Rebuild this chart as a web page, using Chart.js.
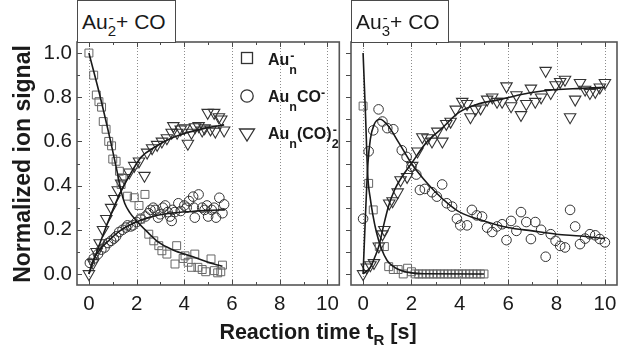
<!DOCTYPE html>
<html><head><meta charset="utf-8">
<script src="https://cdn.jsdelivr.net/npm/chart.js@4.4.1/dist/chart.umd.min.js"></script>
<style>
html,body{margin:0;padding:0;background:#fff;}
#wrap{position:relative;width:639px;height:356px;overflow:hidden;background:#fff;font-family:"Liberation Sans",Arial,Helvetica,sans-serif;color:#1a1a1a;}
canvas{position:absolute;top:0;}
#c1{left:0;}
#c2{left:337px;}
.tbox{position:absolute;top:0;height:43px;box-sizing:border-box;border:1px solid #4a4a4a;background:#fff;}
.tbox .t{position:absolute;left:4px;top:10px;font-size:21px;line-height:1;white-space:nowrap;}
.t .sb{font-size:15px;position:relative;top:7px;}
.t .stk{position:relative;}
.t .stk .sp{font-size:15px;position:absolute;left:1px;top:-0.5px;}
.leg{position:absolute;left:268px;font-size:16px;font-weight:bold;line-height:1;white-space:nowrap;}
.leg .sb{font-size:12.5px;position:relative;top:9px;}
.leg .sp{font-size:12.5px;position:relative;top:-5px;}
.leg .stk{position:relative;}
.leg .stk .sp{position:absolute;left:1px;top:-1px;}
#ytitle{position:absolute;left:-128px;top:152px;width:300px;height:24px;text-align:center;font-size:23px;font-weight:bold;line-height:24px;transform:rotate(-90deg);white-space:nowrap;}
#xtitle{position:absolute;left:168px;top:322px;width:300px;text-align:center;font-size:21.5px;font-weight:bold;line-height:1;white-space:nowrap;}
#xtitle .sb{font-size:15px;position:relative;top:6px;}
</style>
</head>
<body>
<div id="wrap">
  <canvas id="c1" width="347" height="356"></canvas>
  <canvas id="c2" width="302" height="356"></canvas>
  <div class="tbox" style="left:77px;width:99px;"><span class="t">Au<span class="stk"><span class="sb">2</span><span class="sp">-</span></span>+ CO</span></div>
  <div class="tbox" style="left:351px;width:98px;"><span class="t">Au<span class="stk"><span class="sb">3</span><span class="sp">-</span></span>+ CO</span></div>
  <div class="leg" style="top:52px;">Au<span class="stk"><span class="sb">n</span><span class="sp">-</span></span></div>
  <div class="leg" style="top:89px;">Au<span class="sb">n</span>CO<span class="sp">-</span></div>
  <div class="leg" style="top:126px;">Au<span class="sb">n</span>(CO)<span class="stk"><span class="sb">2</span><span class="sp">-</span></span></div>
  <div id="ytitle">Normalized ion signal</div>
  <div id="xtitle">Reaction time t<span class="sb">R</span> [s]</div>
</div>
<script>
// ---------- axis ticks ----------
const xTickValues  = [0,1,2,3,4,5,6,7,8,9,10];
const xLabelValues = [0,2,4,6,8,10];
const xGridValues  = [0,2,4,6,8,10];
const yTickValues  = [0,0.1,0.2,0.3,0.4,0.5,0.6,0.7,0.8,0.9,1.0];
const yLabelValues = [0,0.2,0.4,0.6,0.8,1.0];

// ---------- Au2- + CO (left panel) : [t (s), normalized signal] ----------
const au2Anion = [[0,1.0],[0.2,0.9],[0.31,0.81],[0.42,0.78],[0.53,0.755],[0.6,0.69],[0.72,0.655],[0.83,0.6],[0.95,0.58],
 [1.0,0.52],[1.14,0.51],[1.28,0.465],[1.39,0.435],[1.35,0.405],[1.62,0.352],[1.9,0.345],[2.1,0.31],[2.35,0.36],[2.17,0.248],
 [2.51,0.18],[2.72,0.15],[2.93,0.128],[3.06,0.105],[3.27,0.09],[3.61,0.045],[3.68,0.128],[3.95,0.07],[4.03,0.082],[4.16,0.053],
 [4.3,0.03],[4.44,0.09],[4.57,0.03],[4.75,0.02],[4.9,0.01],[5.12,0.068],[5.26,0.015],[5.4,0.005],[5.53,0.01],[5.6,0.04]];
const au2CO = [[0.04,0.05],[0.2,0.07],[0.38,0.09],[0.52,0.11],[0.66,0.12],[0.8,0.14],[0.93,0.15],[1.05,0.16],[1.14,0.17],
 [1.27,0.19],[1.41,0.2],[1.55,0.21],[1.62,0.22],[1.75,0.215],[1.84,0.22],[2.0,0.235],[2.16,0.25],[2.37,0.26],[2.5,0.275],
 [2.58,0.29],[2.7,0.3],[2.78,0.29],[2.9,0.255],[2.99,0.27],[3.1,0.3],[3.2,0.31],[3.3,0.28],[3.4,0.26],[3.47,0.24],[3.5,0.29],
 [3.6,0.28],[3.75,0.32],[3.85,0.285],[4.0,0.31],[4.1,0.3],[4.2,0.33],[4.37,0.35],[4.4,0.3],[4.44,0.255],[4.6,0.36],[4.75,0.3],
 [4.85,0.29],[4.95,0.31],[5.0,0.26],[5.15,0.29],[5.25,0.3],[5.33,0.255],[5.47,0.345],[5.6,0.275],[5.67,0.315]];
const au2CO2 = [[0,0],[0.18,0.05],[0.32,0.1],[0.45,0.14],[0.59,0.2],[0.73,0.25],[0.93,0.3],[1.07,0.34],[1.21,0.38],[1.35,0.41],
 [1.48,0.435],[1.69,0.46],[1.9,0.49],[2.1,0.51],[2.33,0.445],[2.44,0.55],[2.65,0.57],[2.86,0.585],[3.06,0.6],[3.27,0.615],
 [3.47,0.64],[3.54,0.67],[3.7,0.64],[3.85,0.655],[4.0,0.66],[4.15,0.59],[4.3,0.64],[4.45,0.665],[4.6,0.67],[4.75,0.65],
 [4.85,0.66],[4.98,0.73],[5.1,0.655],[5.25,0.73],[5.3,0.645],[5.45,0.71],[5.55,0.7],[5.67,0.65]];
const au2AnionFit = [[0,1.0],[0.5,0.79],[0.93,0.59],[1.15,0.48],[1.35,0.375],[1.5,0.32],[1.7,0.28],[2.0,0.24],[2.5,0.185],
 [2.9,0.145],[3.5,0.11],[4.3,0.08],[5.25,0.045],[5.6,0.035]];
const au2COFit = [[0,0],[0.18,0.063],[0.5,0.115],[0.87,0.155],[1.3,0.195],[2.03,0.237],[2.5,0.255],[2.93,0.267],[3.5,0.276],
 [4.3,0.283],[5.0,0.288],[5.7,0.29]];
const au2CO2Fit = [[0,0],[0.5,0.15],[1.0,0.29],[1.35,0.375],[1.83,0.47],[2.2,0.53],[2.79,0.576],[3.4,0.612],[4.03,0.637],
 [4.8,0.658],[5.67,0.675]];

// ---------- Au3- + CO (right panel) ----------
const au3Anion = [[0,0.76],[0.23,0.41],[0.42,0.29],[0.67,0.124],[0.88,0.124],[1.06,0.033],[1.25,0.02],[1.45,0.02],[1.66,0],
 [1.84,0.026],[2.0,0.01],[2.15,0],[2.3,0],[2.45,0],[2.6,0],[2.75,0],[2.9,0],[3.05,0],[3.2,0],[3.35,0],[3.5,0],[3.65,0],
 [3.8,0],[3.95,0],[4.1,0],[4.25,0],[4.4,0],[4.55,0],[4.7,0],[4.85,0],[5.0,0]];
const au3CO = [[0,0.25],[0.23,0.555],[0.42,0.65],[0.64,0.745],[0.8,0.69],[1.0,0.66],[1.25,0.655],[1.6,0.56],[1.8,0.53],
 [2.0,0.485],[2.2,0.45],[2.35,0.38],[2.55,0.385],[2.85,0.37],[3.05,0.35],[3.27,0.405],[3.46,0.32],[3.68,0.305],[3.88,0.25],
 [4.02,0.22],[4.3,0.22],[4.5,0.29],[4.7,0.265],[4.92,0.26],[5.13,0.21],[5.34,0.19],[5.54,0.215],[5.75,0.225],[5.93,0.153],
 [6.12,0.24],[6.34,0.195],[6.53,0.28],[6.75,0.235],[6.94,0.158],[7.12,0.235],[7.36,0.2],[7.55,0.078],[7.76,0.18],[7.96,0.15],
 [8.15,0.127],[8.35,0.12],[8.56,0.29],[8.77,0.215],[8.97,0.135],[9.18,0.16],[9.38,0.18],[9.6,0.175],[9.79,0.158],[10.0,0.143]];
const au3CO2 = [[0,0],[0.15,0.03],[0.3,0.04],[0.45,0.05],[0.65,0.125],[0.8,0.18],[0.88,0.2],[1.08,0.32],[1.22,0.33],[1.43,0.37],
 [1.55,0.425],[1.82,0.44],[2.03,0.49],[2.25,0.555],[2.45,0.62],[2.66,0.615],[2.85,0.6],[3.07,0.645],[3.28,0.6],[3.44,0.68],
 [3.62,0.69],[3.83,0.745],[4.1,0.78],[4.3,0.77],[4.44,0.71],[4.65,0.745],[4.86,0.75],[5.13,0.79],[5.34,0.8],[5.54,0.78],
 [5.75,0.78],[5.93,0.85],[6.12,0.76],[6.34,0.81],[6.53,0.72],[6.75,0.77],[6.94,0.84],[7.12,0.78],[7.36,0.8],[7.55,0.92],
 [7.76,0.82],[7.96,0.855],[8.15,0.87],[8.35,0.88],[8.56,0.71],[8.77,0.79],[8.97,0.865],[9.18,0.835],[9.38,0.82],[9.6,0.825],
 [9.79,0.845],[10.0,0.865]];
const au3AnionFit = [[0,1.0],[0.1,0.72],[0.19,0.45],[0.3,0.34],[0.4,0.27],[0.55,0.19],[0.74,0.12],[1.0,0.06],[1.3,0.03],
 [1.6,0.015],[2.0,0.005],[2.5,0.001],[5.0,0]];
const au3COFit = [[0,0],[0.1,0.27],[0.2,0.5],[0.3,0.61],[0.45,0.675],[0.7,0.7],[1.0,0.675],[1.5,0.59],[2.0,0.5],[2.5,0.43],
 [3.0,0.37],[3.5,0.32],[4.0,0.28],[5.0,0.24],[6.0,0.21],[7.0,0.195],[8.0,0.18],[9.0,0.172],[10.0,0.16]];
const au3CO2Fit = [[0,0],[0.3,0.03],[0.5,0.08],[0.65,0.125],[0.85,0.22],[1.06,0.31],[1.3,0.38],[1.55,0.43],[2.03,0.505],
 [2.58,0.59],[3.27,0.66],[3.95,0.73],[4.78,0.77],[5.68,0.79],[6.9,0.82],[8.0,0.835],[9.0,0.84],[10.0,0.845]];

// ---------- helpers ----------
const FONT = '"Liberation Sans", Arial, Helvetica, sans-serif';
const xy = arr => arr.map(p => ({x:p[0], y:p[1]}));
const isIn = (list, v) => list.some(l => Math.abs(l - v) < 1e-9);

function markers(data, style) {
  const s = {
    rect:     {pointStyle:'rect', pointRadius:5.6, pointBorderColor:'#666', pointBorderWidth:1, rot:0},
    circle:   {pointStyle:'circle', pointRadius:4.8, pointBorderColor:'#333', pointBorderWidth:1, rot:0},
    triangle: {pointStyle:'triangle', pointRadius:6.6, pointBorderColor:'#333', pointBorderWidth:1.1, rot:180}
  }[style];
  return {data:xy(data), showLine:false, pointStyle:s.pointStyle, pointRadius:s.pointRadius,
    pointBorderColor:s.pointBorderColor, pointBorderWidth:s.pointBorderWidth, pointRotation:s.rot,
    pointBackgroundColor:'rgba(0,0,0,0)', pointHoverRadius:s.pointRadius, order:2};
}
function fit(data) {
  return {data:xy(data), showLine:true, borderColor:'#1a1a1a', borderWidth:1.6, pointRadius:0,
    cubicInterpolationMode:'monotone', fill:false, order:1};
}

const framePlugin = {
  id:'frame',
  beforeDatasetsDraw(chart, args, o) {
    const {ctx, chartArea:a, scales:{x, y}} = chart;
    const line = (x1,y1,x2,y2) => {ctx.beginPath(); ctx.moveTo(x1,y1); ctx.lineTo(x2,y2); ctx.stroke();};
    ctx.save();
    ctx.strokeStyle = '#8c8c8c'; ctx.lineWidth = 1; ctx.setLineDash([1,2]);
    xGridValues.forEach(v => { const px = Math.round(x.getPixelForValue(v)) + 0.5; line(px, a.top, px, a.bottom); });
    ctx.setLineDash([]);
    ctx.strokeStyle = '#4a4a4a'; ctx.lineWidth = 1;
    xTickValues.forEach(v => {
      const px = Math.round(x.getPixelForValue(v)) + 0.5; const L = isIn(xLabelValues, v) ? 5 : 3;
      line(px, a.bottom, px, a.bottom - L); line(px, a.top, px, a.top + L);
    });
    yTickValues.forEach(v => {
      const py = Math.round(y.getPixelForValue(v)) + 0.5; const L = isIn(yLabelValues, v) ? 5 : 3;
      if (o.leftIn) line(a.left, py, a.left + L, py);
      if (o.leftOut) line(a.left, py, a.left - 5, py);
    });
    ctx.restore();
  },
  afterDatasetsDraw(chart, args, o) {
    const {ctx, chartArea:a} = chart;
    ctx.save();
    ctx.strokeStyle = '#555'; ctx.lineWidth = 1.6;
    ctx.strokeRect(a.left, a.top, a.right - a.left, a.bottom - a.top);
    if (o.legend) {
      const lx = a.left + 170;
      const rows = [a.top + 16, a.top + 54, a.top + 92];
      ctx.lineWidth = 1.3;
      ctx.strokeStyle = '#333';
      ctx.strokeRect(lx - 5.5, rows[0] - 5.5, 11, 11);
      ctx.beginPath(); ctx.arc(lx, rows[1], 6.2, 0, Math.PI * 2); ctx.stroke();
      ctx.beginPath(); ctx.moveTo(lx - 7.5, rows[2] - 5); ctx.lineTo(lx + 7.5, rows[2] - 5); ctx.lineTo(lx, rows[2] + 7); ctx.closePath(); ctx.stroke();
    }
    ctx.restore();
  }
};

function options(yWidth, padRight, showYLabels, frameOpts) {
  return {
    responsive:false, animation:false, devicePixelRatio:1,
    layout:{padding:{top:42, right:padRight, bottom:0, left:0}},
    plugins:{legend:{display:false}, tooltip:{enabled:false}, frame:frameOpts},
    scales:{
      x:{type:'linear', position:'bottom', min:-0.5, max:10.5,
        afterBuildTicks:s => { s.ticks = xTickValues.map(v => ({value:v})); },
        afterFit:s => { s.height = 71; },
        grid:{display:false, drawTicks:false}, border:{display:false},
        ticks:{autoSkip:false, maxRotation:0, minRotation:0, padding:7, color:'#1a1a1a',
          font:{family:FONT, size:20.5}, callback:v => isIn(xLabelValues, v) ? String(v) : ''}},
      y:{type:'linear', position:'left', min:-0.05, max:1.05,
        afterBuildTicks:s => { s.ticks = yTickValues.map(v => ({value:v})); },
        afterFit:s => { s.width = yWidth; },
        grid:{display:false, drawTicks:false}, border:{display:false},
        ticks:{display:showYLabels, padding:5, color:'#1a1a1a', font:{family:FONT, size:20.5},
          callback:v => isIn(yLabelValues, v) ? v.toFixed(1) : ''}}
    }
  };
}

new Chart(document.getElementById('c1'), {
  type:'scatter',
  data:{datasets:[fit(au2AnionFit), fit(au2COFit), fit(au2CO2Fit),
    markers(au2Anion,'rect'), markers(au2CO,'circle'), markers(au2CO2,'triangle')]},
  options:options(77, 3, true, {leftIn:true, legend:true}),
  plugins:[framePlugin]
});
new Chart(document.getElementById('c2'), {
  type:'scatter',
  data:{datasets:[fit(au3AnionFit), fit(au3COFit), fit(au3CO2Fit),
    markers(au3Anion,'rect'), markers(au3CO,'circle'), markers(au3CO2,'triangle')]},
  options:options(14, 22, false, {leftOut:true, legend:false}),
  plugins:[framePlugin]
});
</script>
</body></html>
